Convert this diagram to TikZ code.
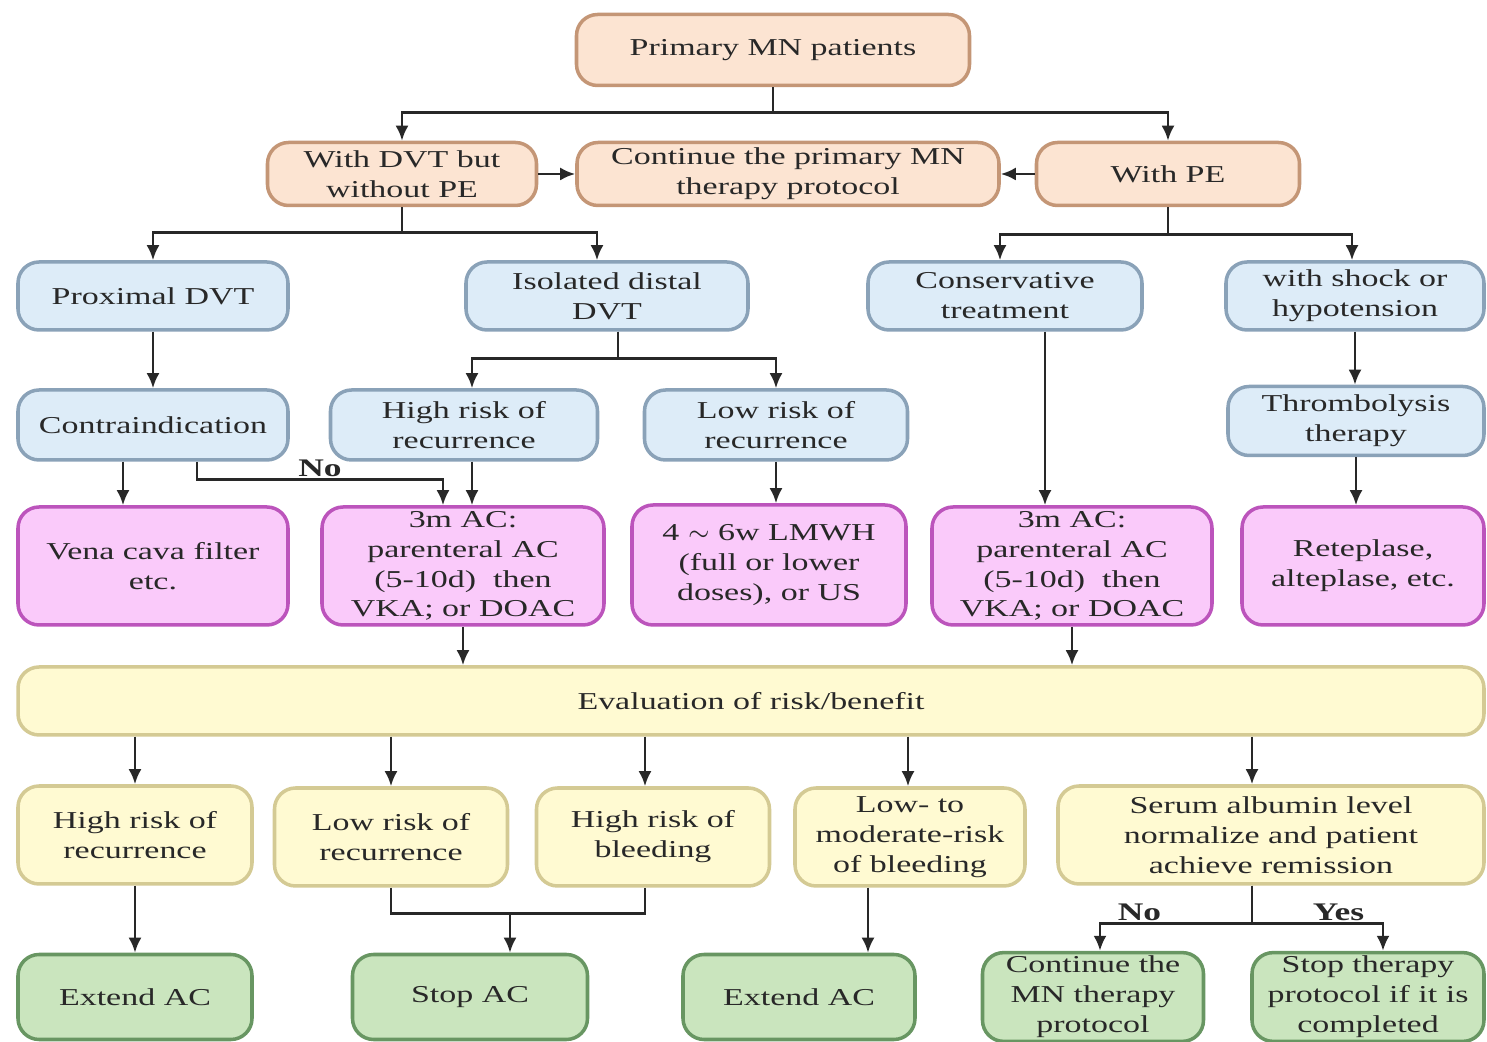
\documentclass[tikz,border=0pt]{standalone}
\usepackage{fontspec}
\setmainfont{Liberation Serif}[FakeStretch=1.4]
\usetikzlibrary{arrows.meta}
\definecolor{peachfill}{RGB}{252,228,210}
\definecolor{peachline}{RGB}{196,150,118}
\definecolor{bluefill}{RGB}{221,236,248}
\definecolor{blueline}{RGB}{138,162,184}
\definecolor{pinkfill}{RGB}{250,202,250}
\definecolor{pinkline}{RGB}{188,84,188}
\definecolor{yellowfill}{RGB}{255,250,210}
\definecolor{yellowline}{RGB}{212,202,148}
\definecolor{greenfill}{RGB}{202,229,190}
\definecolor{greenline}{RGB}{104,150,98}
\definecolor{inkgray}{RGB}{40,40,40}

\tikzset{
  box/.style={rounded corners=6pt, line width=1pt, align=center, inner sep=1pt,
    text=inkgray, font=\fontsize{6.9}{8.5}\selectfont},
  peachbox/.style={box, draw=peachline, fill=peachfill},
  bluebox/.style={box, draw=blueline, fill=bluefill},
  pinkbox/.style={box, draw=pinkline, fill=pinkfill},
  yellowbox/.style={box, draw=yellowline, fill=yellowfill},
  greenbox/.style={box, draw=greenline, fill=greenfill},
  arr/.style={-{Latex[length=1.5mm,width=1.3mm]}, line width=0.8pt, draw=inkgray},
  link/.style={line width=0.8pt, draw=inkgray},
  tag/.style={font=\fontsize{7.2}{8}\selectfont\bfseries, text=inkgray, inner sep=0.5pt}
}

\begin{document}
\begin{tikzpicture}[x=0.1mm, y=-0.1mm]
        \useasboundingbox (0,0) rectangle (1487,1042);

        % Top
        \node[peachbox, minimum width=39.3mm, minimum height=7.1mm] (prim) at (773,50) {Primary MN patients};
        \node[peachbox, minimum width=26.9mm, minimum height=6.3mm] (dvt) at (402,174) {With DVT but\\without PE};
        \node[peachbox, minimum width=42.2mm, minimum height=6.3mm] (cont) at (788,174) {Continue the primary MN\\therapy protocol};
        \node[peachbox, minimum width=26.3mm, minimum height=6.3mm] (pe) at (1168,174) {With PE};

        % Blue rows
        \node[bluebox, minimum width=27mm, minimum height=6.8mm] (prox) at (153,296) {Proximal DVT};
        \node[bluebox, minimum width=28.2mm, minimum height=6.8mm] (iso) at (607,296) {Isolated distal\\DVT};
        \node[bluebox, minimum width=27.4mm, minimum height=6.8mm] (cons) at (1005,296) {Conservative\\treatment};
        \node[bluebox, minimum width=25.8mm, minimum height=6.8mm] (shock) at (1355,296) {with shock or\\hypotension};

        \node[bluebox, minimum width=27mm, minimum height=7mm] (contra) at (153,425) {Contraindication};
        \node[bluebox, minimum width=26.7mm, minimum height=7mm] (hrr) at (464,425) {High risk of\\recurrence};
        \node[bluebox, minimum width=26.3mm, minimum height=7mm] (lrr) at (776,425) {Low risk of\\recurrence};
        \node[bluebox, minimum width=25.6mm, minimum height=6.9mm] (thr) at (1356,421) {Thrombolysis\\therapy};

        % Treatments
        \node[pinkbox, minimum width=27mm, minimum height=11.8mm] (vena) at (153,566) {Vena cava filter\\etc.};
        \node[pinkbox, minimum width=28.2mm, minimum height=11.8mm] (ac1) at (463,566) {3m AC:\\parenteral AC\\(5-10d)~ then\\VKA; or DOAC};
        \node[pinkbox, minimum width=27.4mm, minimum height=12mm] (lmwh) at (769,565) {4 $\sim$ 6w LMWH\\(full or lower\\doses), or US};
        \node[pinkbox, minimum width=28mm, minimum height=11.8mm] (ac2) at (1072,566) {3m AC:\\parenteral AC\\(5-10d)~ then\\VKA; or DOAC};
        \node[pinkbox, minimum width=24.2mm, minimum height=11.8mm] (rete) at (1363,566) {Reteplase,\\alteplase, etc.};

        % Evaluation
        \node[yellowbox, minimum width=146.6mm, minimum height=6.8mm] (eval) at (751,701) {Evaluation of risk/benefit};

        \node[yellowbox, minimum width=23.4mm, minimum height=9.8mm] (hr2) at (135,835) {High risk of\\recurrence};
        \node[yellowbox, minimum width=23.3mm, minimum height=9.8mm] (lr2) at (391,837) {Low risk of\\recurrence};
        \node[yellowbox, minimum width=23.3mm, minimum height=9.8mm] (hb) at (653,837) {High risk of\\bleeding};
        \node[yellowbox, minimum width=23mm, minimum height=9.8mm] (lmb) at (910,837) {Low- to\\moderate-risk\\of bleeding};
        \node[yellowbox, minimum width=42.6mm, minimum height=9.8mm] (serum) at (1271,835) {Serum albumin level\\normalize and patient\\achieve remission};

        % Outcomes
        \node[greenbox, minimum width=23.4mm, minimum height=8.5mm] (ext1) at (135,997) {Extend AC};
        \node[greenbox, minimum width=23.5mm, minimum height=8.5mm] (stop) at (470,997) {Stop AC};
        \node[greenbox, minimum width=23.2mm, minimum height=8.5mm] (ext2) at (799,997) {Extend AC};
        \node[greenbox, minimum width=22.1mm, minimum height=8.5mm] (cont2) at (1093,997) {Continue the\\MN therapy\\protocol};
        \node[greenbox, minimum width=23.2mm, minimum height=8.5mm] (stopt) at (1368,997) {Stop therapy\\protocol if it is\\completed};

        % Connectors
        \draw[arr] (prim.south) -- ++(0,25) -| (dvt.north);
        \draw[arr] (prim.south) -- ++(0,25) -| (pe.north);
        \draw[arr] (dvt.east) -- (cont.west);
        \draw[arr] (pe.west) -- (cont.east);

        \draw[arr] (dvt.south) -- ++(0,25) -| (prox.north);
        \draw[arr] (dvt.south) -- ++(0,25) -| ([xshift=-1mm]iso.north);
        \draw[arr] (pe.south) -- ++(0,27) -| ([xshift=-.5mm]cons.north);
        \draw[arr] (pe.south) -- ++(0,27) -| ([xshift=-.3mm]shock.north);

        \draw[arr] (prox.south) -- (contra.north);
        \draw[arr] ([xshift=1.1mm]iso.south) -- ++(0,27) -| ([xshift=.8mm]hrr.north);
        \draw[arr] ([xshift=1.1mm]iso.south) -- ++(0,27) -| (lrr.north);
        \draw[arr] (shock.south) -- (shock.south |- thr.north);

        \draw[arr] ([xshift=-3mm]contra.south) -- ([xshift=-3mm]vena.north);
        \draw[arr] ([xshift=4.4mm]contra.south) -- ++(0,18) -| ([xshift=-2mm]ac1.north)
            node[tag, pos=0.25, above] {No};
        \draw[arr] ([xshift=.8mm]hrr.south) -- ([xshift=.8mm]hrr.south |- ac1.north);
        \draw[arr] (lrr.south) -- (lrr.south |- lmwh.north);
        \draw[arr] ([xshift=4mm]cons.south) -- ([xshift=4mm]cons.south |- ac2.north);
        \draw[arr] (thr.south) -- (thr.south |- rete.north);

        \draw[arr] (ac1.south) -- (ac1.south |- eval.north);
        \draw[arr] (ac2.south) -- (ac2.south |- eval.north);

        \draw[arr] (hr2.north |- eval.south) -- (hr2.north);
        \draw[arr] (lr2.north |- eval.south) -- (lr2.north);
        \draw[arr] ([xshift=-.8mm]hb.north |- eval.south) -- ([xshift=-.8mm]hb.north);
        \draw[arr] ([xshift=-.2mm]lmb.north |- eval.south) -- ([xshift=-.2mm]lmb.north);
        \draw[arr] ([xshift=-1.9mm]serum.north |- eval.south) -- ([xshift=-1.9mm]serum.north);

        \draw[arr] (hr2.south) -- (ext1.north);
        \draw[link] (lr2.south) -- ++(0,26) coordinate (jstop) -| ([xshift=-.8mm]hb.south);
        \coordinate (stopin) at ([xshift=4mm]stop.north);
        \draw[arr] (jstop -| stopin) -- (stopin);
        \draw[arr] ([xshift=-4.2mm]lmb.south) -- ([xshift=-4.2mm]lmb.south |- ext2.north);
        \draw[arr] ([xshift=-1.9mm]serum.south) -- ++(0,38) -| ([xshift=.7mm]cont2.north)
            node[tag, pos=0.37, above] {No};
        \draw[arr] ([xshift=-1.9mm]serum.south) -- ++(0,38) -| ([xshift=1.5mm]stopt.north)
            node[tag, pos=0.33, above] {Yes};

\end{tikzpicture}
\end{document}
